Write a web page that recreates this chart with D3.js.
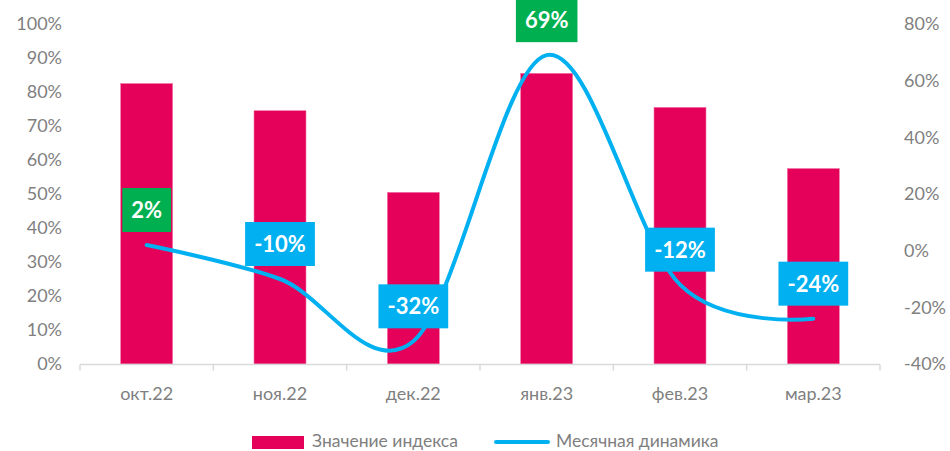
<!DOCTYPE html>
<html>
<head>
<meta charset="utf-8">
<script src="https://cdn.jsdelivr.net/npm/d3@7"></script>
<style>
  body { margin: 0; background: #fff; }
  text { font-family: Lato, "Open Sans", sans-serif; }
</style>
</head>
<body>
<div id="chart"></div>
<script>
// Data
var months = ["окт.22", "ноя.22", "дек.22", "янв.23", "фев.23", "мар.23"];
var indexValues = [82.5, 74.5, 50.5, 85.5, 75.5, 57.5];
var monthlyChange = [2, -10, -32, 69, -12, -24];
var leftTicks = [0, 10, 20, 30, 40, 50, 60, 70, 80, 90, 100];
var rightTicks = [-40, -20, 0, 20, 40, 60, 80];
var seriesNames = ["Значение индекса", "Месячная динамика"];

var svgWidth = 950;
var svgHeight = 451;
var margin = { top: 24, right: 70, bottom: 87, left: 80 };
var width = svgWidth - margin.left - margin.right;
var height = svgHeight - margin.top - margin.bottom;

var barColor = "#E5005A";
var lineColor = "#00B0F0";
var posColor = "#00B050";
var axisText = "#7F7F7F";

var svg = d3.select("#chart")
    .append("svg")
    .attr("width", svgWidth)
    .attr("height", svgHeight);

var chartGroup = svg.append("g")
    .attr("transform", `translate(${margin.left}, ${margin.top})`);

// Scales
var xScale = d3.scaleBand()
    .domain(months)
    .range([0, width])
    .paddingInner(0.61)
    .paddingOuter(0.305);

var xCenter = d3.scalePoint()
    .domain(months)
    .range([0, width])
    .padding(0.5);

var yLeft = d3.scaleLinear().domain([0, 100]).range([height, 0]);
var yRight = d3.scaleLinear().domain([-40, 80]).range([height, 0]);

// Left axis
var leftAxis = d3.axisLeft(yLeft)
    .tickValues(leftTicks)
    .tickFormat(d => d + "%")
    .tickSize(0)
    .tickPadding(18);
var gl = chartGroup.append("g").call(leftAxis);
gl.select(".domain").remove();
gl.selectAll("text").attr("fill", axisText).style("font-size", "18px");

// Right axis
var rightAxis = d3.axisRight(yRight)
    .tickValues(rightTicks)
    .tickFormat(d => d + "%")
    .tickSize(0)
    .tickPadding(24);
var gr = chartGroup.append("g")
    .attr("transform", `translate(${width}, 0)`)
    .call(rightAxis);
gr.select(".domain").remove();
gr.selectAll("text").attr("fill", axisText).style("font-size", "18px");

// Bars
chartGroup.selectAll(".bar")
    .data(indexValues)
    .enter()
    .append("rect")
    .attr("class", "bar")
    .attr("x", (d, i) => xScale(months[i]))
    .attr("y", d => yLeft(d))
    .attr("width", xScale.bandwidth())
    .attr("height", d => height - yLeft(d))
    .attr("fill", barColor)
    .attr("stroke", "#F07AA8")
    .attr("stroke-width", 0.6);

// Bottom axis
var bottomScale = d3.scaleLinear().domain([0, months.length]).range([0, width]);
var gb = chartGroup.append("g")
    .attr("transform", `translate(0, ${height + 0.5})`);
gb.append("line")
    .attr("x1", 0).attr("x2", width)
    .attr("stroke", "#D9D9D9").attr("stroke-width", 1.5);
gb.selectAll(".tick")
    .data(d3.range(months.length + 1))
    .enter()
    .append("line")
    .attr("x1", d => bottomScale(d)).attr("x2", d => bottomScale(d))
    .attr("y1", 0).attr("y2", 6)
    .attr("stroke", "#D9D9D9").attr("stroke-width", 1.5);
gb.selectAll(".xlabel")
    .data(months)
    .enter()
    .append("text")
    .attr("x", d => xCenter(d))
    .attr("y", 35)
    .attr("text-anchor", "middle")
    .attr("fill", axisText)
    .style("font-size", "18px")
    .text(d => d);

// Line
var line = d3.line()
    .x((d, i) => xCenter(months[i]))
    .y(d => yRight(d))
    .curve(d3.curveCatmullRom.alpha(0));

chartGroup.append("path")
    .datum(monthlyChange)
    .attr("d", line)
    .attr("fill", "none")
    .attr("stroke", lineColor)
    .attr("stroke-width", 4)
    .attr("stroke-linecap", "round");

// Data labels
var labels = chartGroup.selectAll(".dlabel")
    .data(monthlyChange)
    .enter()
    .append("g")
    .attr("class", "dlabel")
    .attr("transform", (d, i) => `translate(${xCenter(months[i])}, ${yRight(d) - 35})`);

labels.append("text")
    .attr("text-anchor", "middle")
    .attr("dy", "0.36em")
    .attr("fill", "#fff")
    .style("font-size", "22px")
    .style("font-weight", "bold")
    .text(d => d + "%");

labels.each(function(d) {
    var g = d3.select(this);
    var bb = g.select("text").node().getBBox();
    g.insert("rect", "text")
        .attr("x", bb.x - 9)
        .attr("y", -22)
        .attr("width", bb.width + 18)
        .attr("height", 44)
        .attr("fill", d > 0 ? posColor : lineColor);
});

// Legend
var legend = svg.append("g").attr("transform", "translate(252, 436)");
legend.append("rect")
    .attr("x", 0).attr("y", 0)
    .attr("width", 52).attr("height", 13)
    .attr("fill", barColor);
legend.append("text")
    .attr("x", 60).attr("y", 10.5)
    .attr("fill", axisText)
    .style("font-size", "17.5px")
    .text(seriesNames[0]);
legend.append("line")
    .attr("x1", 244).attr("x2", 296)
    .attr("y1", 6).attr("y2", 6)
    .attr("stroke", lineColor)
    .attr("stroke-width", 4)
    .attr("stroke-linecap", "round");
legend.append("text")
    .attr("x", 304).attr("y", 10.5)
    .attr("fill", axisText)
    .style("font-size", "17.5px")
    .text(seriesNames[1]);
</script>
</body>
</html>
